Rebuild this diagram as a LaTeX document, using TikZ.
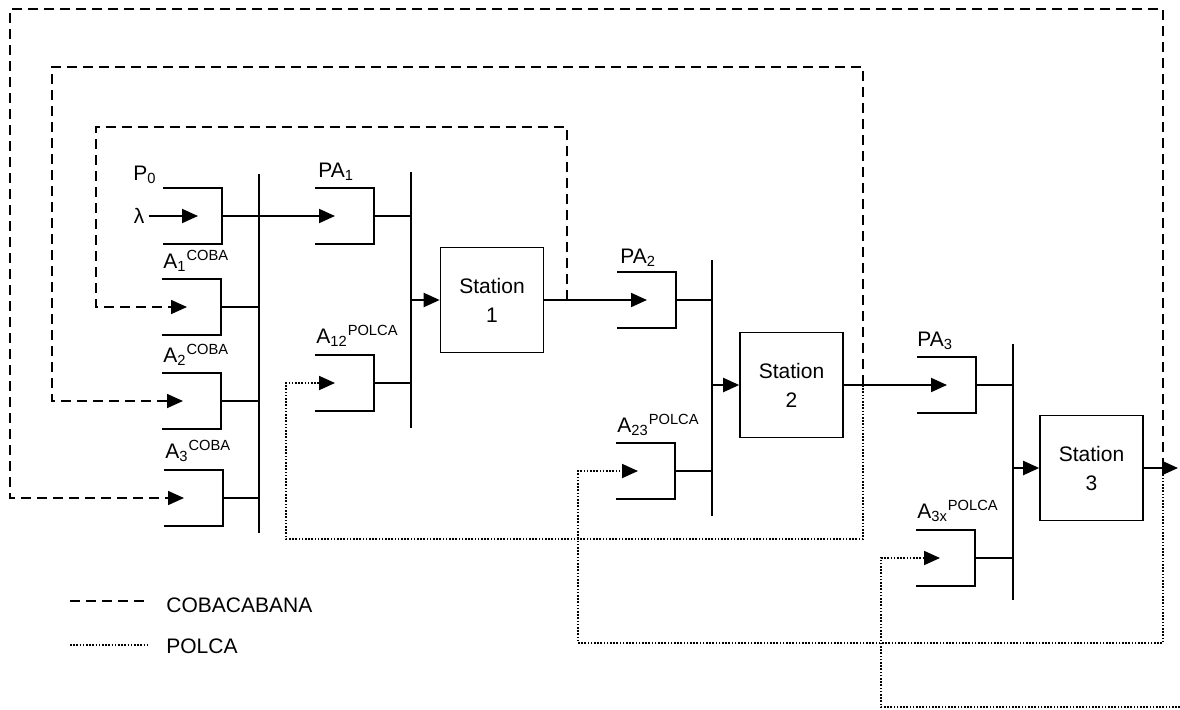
\documentclass[tikz,border=0pt]{standalone}
\usepackage{fontspec}
\setmainfont{Liberation Sans}
\usetikzlibrary{arrows.meta,calc}

\tikzset{
    tip/.style={-{Triangle[length=8pt,width=7pt]}},
    bufline/.style={line width=1pt},
    flow/.style={line width=1pt, tip},
    station/.style={draw, line width=0.8pt, minimum width=51.5pt, minimum height=52.5pt, align=center, inner sep=0pt},
    coba/.style={line width=0.8pt, dash pattern=on 5pt off 3pt},
    polca/.style={line width=0.9pt, dash pattern=on 0.8pt off 0.8pt},
    lbl/.style={anchor=base west, inner sep=0pt}
}

\begin{document}
\begin{tikzpicture}[x=0.5pt, y=-0.5pt, >=Stealth, font=\fontsize{10.5}{14.5}\selectfont]
    \useasboundingbox (0,0) rectangle (1180,709);

    % Buffers: name / right x / middle y / arrow tip x
    \foreach \n/\x/\y/\t in {P0/222/216/198, A1/221/307/187, A2/221/401/183, A3/223/498/184,
                             PA1/374/216/335, A12/374/383/335, PA2/676/300/647, A23/675/471/638,
                             PA3/976/385/947, A3x/975/558/940} {
        \draw [bufline] (\x-59,\y-28) -- (\x,\y-28) -- (\x,\y+28) -- (\x-59,\y+28);
        \coordinate (\n-out) at (\x,\y);
        \coordinate (\n-in) at (\t,\y);
    }

    % Buses
    \foreach \n/\x/\a/\b in {bus1/259/174/533, bus2/411/172/428, bus3/712/260/516, bus4/1013/344/600}
        \draw [bufline] (\x,\a) coordinate (\n-top) -- (\x,\b) coordinate (\n-bot);

    % Stations
    \node [station] (S1) at (492,300) {Station\\1};
    \node [station] (S2) at (791.5,385) {Station\\2};
    \node [station] (S3) at (1091.5,468) {Station\\3};

    % Labels
    \node [lbl] (lP0) at (133,180) {P\textsubscript{0}};
    \node [inner sep=2pt] (lam) at (139,216) {λ};
    \node [lbl] (lA1) at (163,268) {A\textsubscript{1}\textsuperscript{COBA}};
    \node [lbl] (lA2) at (163,362) {A\textsubscript{2}\textsuperscript{COBA}};
    \node [lbl] (lA3) at (165,458) {A\textsubscript{3}\textsuperscript{COBA}};
    \node [lbl] (lPA1) at (318,177) {PA\textsubscript{1}};
    \node [lbl] (lA12) at (316,343) {A\textsubscript{12}\textsuperscript{POLCA}};
    \node [lbl] (lPA2) at (620,263) {PA\textsubscript{2}};
    \node [lbl] (lA23) at (617,432) {A\textsubscript{23}\textsuperscript{POLCA}};
    \node [lbl] (lPA3) at (917,346) {PA\textsubscript{3}};
    \node [lbl] (lA3x) at (917,518) {A\textsubscript{3x}\textsuperscript{POLCA}};

    % Material flow
    \draw [flow] (lam.east |- P0-in) -- (P0-in);
    \draw [flow] (P0-out) -- (PA1-in);
    \draw [bufline] (A1-out) -- (A1-out -| bus1-top);
    \draw [bufline] (A2-out) -- (A2-out -| bus1-top);
    \draw [bufline] (A3-out) -- (A3-out -| bus1-top);
    \draw [bufline] (PA1-out) -- (PA1-out -| bus2-top);
    \draw [bufline] (A12-out) -- (A12-out -| bus2-top);
    \draw [flow] (S1.west -| bus2-top) -- (S1.west);
    \draw [flow] (S1.east) -- (PA2-in);
    \draw [bufline] (PA2-out) -- (PA2-out -| bus3-top);
    \draw [bufline] (A23-out) -- (A23-out -| bus3-top);
    \draw [flow] (S2.west -| bus3-top) -- (S2.west);
    \draw [flow] (S2.east) -- (PA3-in);
    \draw [bufline] (PA3-out) -- (PA3-out -| bus4-top);
    \draw [bufline] (A3x-out) -- (A3x-out -| bus4-top);
    \draw [flow] (S3.west -| bus4-top) -- (S3.west);
    \coordinate (exit) at (1178,468);
    \draw [flow] (S3.east) -- (exit);

    % COBACABANA loops
    \coordinate (tap1) at (567,300);
    \coordinate (tap2) at (863,385);
    \coordinate (tap3) at (1163,468);
    \draw [coba, tip] (tap1) -- (567,127) -- (96,127) |- (A1-in);
    \draw [coba, tip] (tap2) -- (863,67) -- (52,67) |- (A2-in);
    \draw [coba, tip] (tap3) -- (1163,9) -- (10,9) |- (A3-in);

    % POLCA loops
    \draw [polca, tip] (tap2) |- (286,539) |- (A12-in);
    \draw [polca, tip] (tap3) |- (578,643) |- (A23-in);
    \coordinate (loose) at (1180,707);
    \draw [polca, tip] (loose) -- (881,707) |- (A3x-in);

    % Legend
    \draw [coba] (70,601) -- (147,601);
    \node [lbl] (lcoba) at (166,612) {COBACABANA};
    \draw [polca] (70,645) -- (147,645);
    \node [lbl] (lpolca) at (166,653) {POLCA};
\end{tikzpicture}
\end{document}
